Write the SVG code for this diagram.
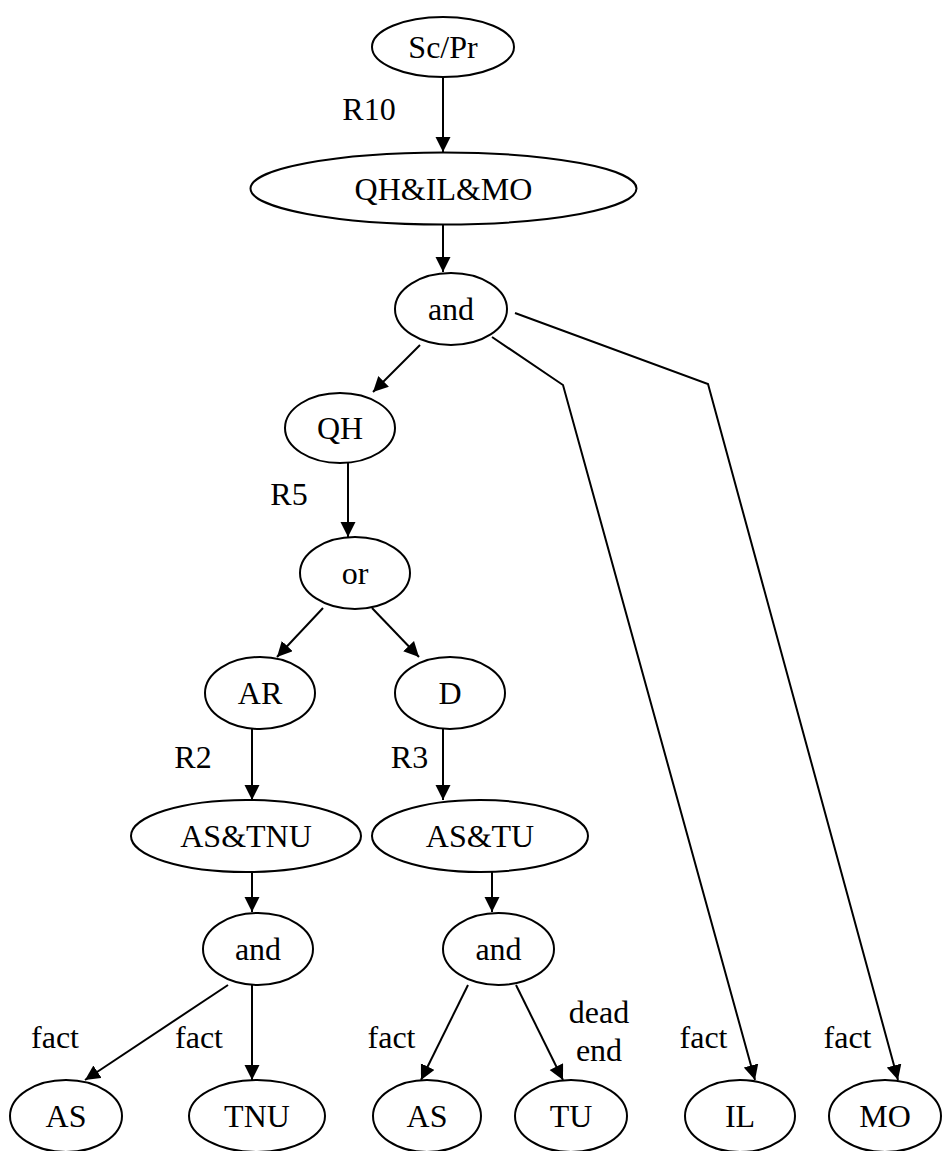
<svg xmlns="http://www.w3.org/2000/svg" width="943" height="1151" viewBox="0 0 943 1151">
  <style>
    .node ellipse { fill: #ffffff; stroke: #000000; stroke-width: 2; }
    text { font-family: "Liberation Serif", "Times New Roman", serif; font-size: 32px; fill: #000000; text-anchor: middle; }
    .edges path { fill: none; stroke: #000000; stroke-width: 2; marker-end: url(#arrow); }
  </style>
  <defs>
    <marker id="arrow" markerUnits="userSpaceOnUse" markerWidth="16" markerHeight="16" refX="15" refY="7.5" orient="auto">
      <path d="M0,0 L15,7.5 L0,15 z" fill="#000000"/>
    </marker>
  </defs>

  <rect width="943" height="1151" fill="#ffffff"/>

  <!-- connectors -->
  <g id="edges" class="edges">
    <path d="M443,77 L443,152"/>
    <path d="M443,224 L443,272"/>
    <path d="M420,345 L373,392"/>
    <path d="M492,337 L563,385 L755,1080"/>
    <path d="M515,313 L708,384 L898,1080"/>
    <path d="M348,463 L348,537"/>
    <path d="M323,608 L277,657"/>
    <path d="M372,608 L419,657"/>
    <path d="M252,729 L252,800"/>
    <path d="M443,729 L443,800"/>
    <path d="M252,864 L252,912"/>
    <path d="M492,864 L492,912"/>
    <path d="M228,985 L85,1080"/>
    <path d="M252,985 L252,1080"/>
    <path d="M468,985 L421,1080"/>
    <path d="M516,985 L563,1080"/>
  </g>

  <!-- edge labels -->
  <g id="edge-labels">
    <text x="369" y="120">R10</text>
    <text x="289" y="505">R5</text>
    <text x="193" y="768">R2</text>
    <text x="409.5" y="768">R3</text>
    <text x="55" y="1048">fact</text>
    <text x="199" y="1048">fact</text>
    <text x="391.5" y="1048">fact</text>
    <text x="599" y="1023">dead</text>
    <text x="599" y="1061">end</text>
    <text x="703.5" y="1048">fact</text>
    <text x="847.5" y="1048">fact</text>
  </g>

  <!-- nodes -->
  <g id="n-scpr" class="node"><ellipse cx="443" cy="47" rx="71" ry="30"/><text x="443" y="58">Sc/Pr</text></g>
  <g id="n-qhilmo" class="node"><ellipse cx="443.5" cy="188.5" rx="193" ry="36"/><text x="443.5" y="200">QH&amp;IL&amp;MO</text></g>
  <g id="n-and-top" class="node"><ellipse cx="451" cy="309" rx="56" ry="36"/><text x="451" y="320">and</text></g>
  <g id="n-qh" class="node"><ellipse cx="340" cy="428" rx="55" ry="35"/><text x="340" y="439">QH</text></g>
  <g id="n-or" class="node"><ellipse cx="355" cy="573" rx="55" ry="36"/><text x="355" y="584">or</text></g>
  <g id="n-ar" class="node"><ellipse cx="260" cy="693" rx="55" ry="36"/><text x="260" y="704">AR</text></g>
  <g id="n-d" class="node"><ellipse cx="450" cy="693" rx="55" ry="36"/><text x="450" y="704">D</text></g>
  <g id="n-astnu" class="node"><ellipse cx="246" cy="836" rx="115" ry="36"/><text x="246" y="847">AS&amp;TNU</text></g>
  <g id="n-astu" class="node"><ellipse cx="480" cy="836" rx="108" ry="36"/><text x="480" y="847">AS&amp;TU</text></g>
  <g id="n-and-left" class="node"><ellipse cx="258" cy="949" rx="55" ry="36"/><text x="258" y="960">and</text></g>
  <g id="n-and-right" class="node"><ellipse cx="498.5" cy="949" rx="55.5" ry="36"/><text x="498.5" y="960">and</text></g>
  <g id="n-as1" class="node"><ellipse cx="66" cy="1116" rx="56" ry="36"/><text x="66" y="1127">AS</text></g>
  <g id="n-tnu" class="node"><ellipse cx="257" cy="1116" rx="68" ry="36"/><text x="257" y="1127">TNU</text></g>
  <g id="n-as2" class="node"><ellipse cx="427" cy="1116" rx="54" ry="36"/><text x="427" y="1127">AS</text></g>
  <g id="n-tu" class="node"><ellipse cx="571" cy="1116" rx="56" ry="36"/><text x="571" y="1127">TU</text></g>
  <g id="n-il" class="node"><ellipse cx="740" cy="1116" rx="55" ry="36"/><text x="740" y="1127">IL</text></g>
  <g id="n-mo" class="node"><ellipse cx="885" cy="1116" rx="56" ry="36"/><text x="885" y="1127">MO</text></g>
</svg>
